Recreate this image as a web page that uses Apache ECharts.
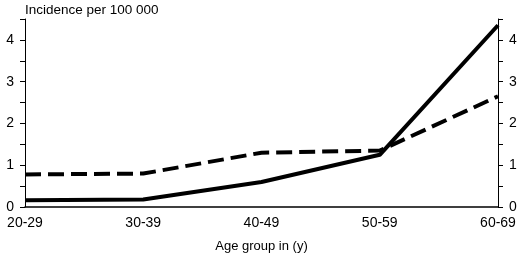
<!doctype html>
<html>
<head>
<meta charset="utf-8">
<script src="https://cdn.jsdelivr.net/npm/echarts@6/dist/echarts.min.js"></script>
<style>html,body{margin:0;padding:0;background:#fff}#main{width:520px;height:273px}</style>
</head>
<body>
<div id="main"></div>
<script>
var ageGroups = ['20-29', '30-39', '40-49', '50-59', '60-69'];
var solidValues = [0.16, 0.18, 0.6, 1.25, 4.35];
var dashedValues = [0.78, 0.8, 1.3, 1.35, 2.65];

var chart = echarts.init(document.getElementById('main'));
var font = 'Liberation Sans, Arial, sans-serif';

function yAxis(pos, margin) {
    return {
        type: 'value',
        position: pos,
        min: 0,
        max: 4.5,
        interval: 0.5,
        axisLine: { show: true, lineStyle: { color: '#000', width: 1 } },
        axisTick: { show: true, length: 5, lineStyle: { color: '#000' } },
        splitLine: { show: false },
        axisLabel: {
            color: '#000',
            fontFamily: font,
            fontSize: 14,
            margin: margin,
            formatter: function (v) { return v % 1 === 0 ? String(v) : ''; }
        }
    };
}

chart.setOption({
    animation: false,
    grid: { left: 25, right: 22, top: 19, bottom: 66, containLabel: false },
    title: {
        text: 'Incidence per 100 000',
        left: 20,
        top: -2,
        textStyle: { fontFamily: font, fontSize: 13.5, fontWeight: 'normal', color: '#000' }
    },
    xAxis: {
        type: 'category',
        data: ageGroups,
        boundaryGap: false,
        name: 'Age group in (y)',
        nameLocation: 'middle',
        nameGap: 33,
        nameTextStyle: { fontFamily: font, fontSize: 13, color: '#000' },
        axisLine: { lineStyle: { color: '#000', width: 1.5 } },
        axisTick: { show: false },
        axisLabel: { color: '#000', fontFamily: font, fontSize: 14, margin: 9 }
    },
    yAxis: [yAxis('left', 11), yAxis('right', 11)],
    series: [{
        type: 'line',
        data: solidValues,
        symbol: 'none',
        lineStyle: { color: '#000', width: 4, type: 'solid' }
    }, {
        type: 'line',
        data: dashedValues,
        symbol: 'none',
        lineStyle: { color: '#000', width: 4, type: [16, 7] }
    }]
});
</script>
</body>
</html>
